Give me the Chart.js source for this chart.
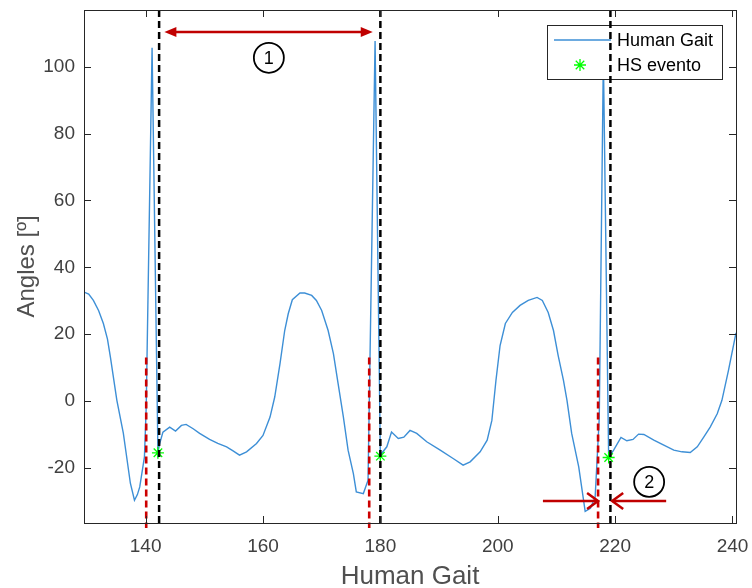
<!DOCTYPE html>
<html>
<head>
<meta charset="utf-8">
<script src="https://cdn.jsdelivr.net/npm/chart.js@4/dist/chart.umd.min.js"></script>
<style>
  html, body { margin: 0; padding: 0; background: #fff; }
  canvas { display: block; }
</style>
</head>
<body>
<canvas id="myChart" width="752" height="588"></canvas>
<script>
// Gait angle curve (x = sample, y = angle in degrees)
const gaitX = [
  129.5, 130.3, 131.1, 132.0, 132.8, 133.5, 134.0, 135.1, 136.2, 137.4,
  138.1, 138.6, 139.0, 139.8, 140.1, 141.1, 142.1, 142.4, 142.95, 144.1,
  145.1, 146.1, 146.9, 148.1, 149.2, 150.9, 152.3, 153.8, 154.9, 156.0,
  157.2, 158.9, 160.0, 161.2, 162.0, 162.9, 163.7, 164.3, 165.0, 166.3,
  167.1, 168.3, 169.1, 170.0, 171.1, 172.0, 172.8, 173.7, 174.5, 175.4,
  175.9, 177.1, 177.9, 179.1, 180.0, 180.2, 181.1, 181.9, 183.05, 184.0,
  185.05, 186.2, 187.9, 190.2, 192.4, 194.1, 195.3, 197.0, 198.2, 199.0,
  199.7, 200.4, 201.3, 202.5, 203.8, 205.2, 206.7, 207.6, 208.6, 209.5,
  210.3, 211.2, 211.8, 212.6, 213.8, 214.9, 215.8, 216.6, 217.3, 218.0,
  218.9, 219.75, 221.0, 222.0, 223.05, 224.0, 224.9, 226.6, 228.3, 230.0,
  231.4, 232.8, 234.0, 235.1, 236.2, 237.4, 238.2, 239.3, 240.6
];
const gaitY = [
  32.6, 32.0, 30.1, 27.0, 23.2, 18.5, 13.1, 0.2, -9.6, -24.6,
  -29.7, -28.0, -25.7, -16.7, -1.8, 105.7, -15.5, -12.7, -9.3, -7.8,
  -9.0, -7.3, -7.0, -8.3, -9.7, -11.5, -12.7, -13.7, -14.9, -16.2,
  -15.2, -12.7, -10.3, -4.8, 1.2, 11.2, 21.1, 26.1, 30.3, 32.3,
  32.3, 31.6, 30.1, 27.1, 21.1, 14.2, 5.2, -4.8, -14.7, -21.7,
  -27.2, -27.7, -23.7, 107.7, -16.5, -15.7, -13.7, -9.3, -11.2, -10.8,
  -8.8, -9.7, -12.2, -14.7, -17.2, -19.2, -18.2, -15.2, -11.7, -5.8,
  6.2, 16.6, 23.2, 26.5, 28.6, 30.1, 31.0, 30.1, 26.5, 21.1,
  13.6, 6.2, 0.2, -9.7, -19.7, -33.0, -32.1, -28.7, -5.0, 103.0,
  -16.9, -14.7, -10.9, -11.9, -11.5, -9.9, -10.0, -11.7, -13.2, -14.7,
  -15.2, -15.4, -13.7, -10.8, -7.8, -3.8, 0.2, 9.0, 20.4
];

// Heel strike events
const hsX = [142.1, 180.0, 218.9];
const hsY = [-15.5, -16.5, -16.9];

// Marker lines
const redLineX = [140.1, 178.1, 217.1];
const redLineTop = 13;
const redLineBottom = -38;
const blackLineX = [142.3, 180.0, 219.2];

// Axis limits and ticks
const xMin = 129.5, xMax = 240.6;
const yMin = -36.5, yMax = 117;
const xTicks = [140, 160, 180, 200, 220, 240];
const yTicks = [-20, 0, 20, 40, 60, 80, 100];

// Annotations: arrows [fromX, toX, y] and circled numbers [x, y, label]
const spanArrow = [143.2, 178.7, 110.4];
const gapArrows = [[207.7, 217.1, -29.9], [228.7, 219.5, -29.9]];
const circleLabels = [[161.0, 102.7, "1"], [225.8, -24.2, "2"]];

const FONT = "'Liberation Sans', Arial, sans-serif";
const AXIS_COLOR = "#262626";
const TEXT_COLOR = "#404040";
const ARROW_COLOR = "#c00000";

const vline = (x, top, bottom) => [{ x: x, y: top }, { x: x, y: bottom }];

const datasets = [
  {
    label: "Human Gait",
    data: gaitX.map((x, i) => ({ x: x, y: gaitY[i] })),
    borderColor: "#3d8fd6",
    borderWidth: 1.4,
    pointRadius: 0,
    tension: 0,
    order: 3
  },
  {
    label: "HS evento",
    data: hsX.map((x, i) => ({ x: x, y: hsY[i] })),
    showLine: false,
    pointStyle: "star",
    pointRadius: 6,
    borderColor: "#00ff00",
    borderWidth: 1.3,
    order: 2
  }
];

redLineX.forEach(x => {
  datasets.push({
    data: vline(x, redLineTop, redLineBottom),
    borderColor: "#cc0000",
    borderWidth: 2.6,
    borderDash: [7, 4],
    pointRadius: 0,
    clip: false,
    order: 1
  });
});

blackLineX.forEach(x => {
  datasets.push({
    data: vline(x, yMax, yMin),
    borderColor: "#000000",
    borderWidth: 2.5,
    borderDash: [7, 4],
    pointRadius: 0,
    order: 1
  });
});

function arrowHead(ctx, x, y, dir, filled) {
  ctx.beginPath();
  if (filled) {
    ctx.moveTo(x, y);
    ctx.lineTo(x - dir * 12, y - 5);
    ctx.lineTo(x - dir * 12, y + 5);
    ctx.closePath();
    ctx.fill();
  } else {
    ctx.moveTo(x - dir * 11, y - 8);
    ctx.lineTo(x, y);
    ctx.lineTo(x - dir * 11, y + 8);
    ctx.stroke();
  }
}

// legend box drawn right after the gait line, so the dashed lines stay on top
const legendBox = {
  id: "legendBox",
  afterDatasetDraw(chart, args) {
    if (args.index !== 0) return;
    const ctx = chart.ctx;
    const bx = 547, by = 25, bw = 175, bh = 54;
    ctx.save();
    ctx.fillStyle = "#fff";
    ctx.fillRect(bx, by, bw, bh);
    ctx.strokeStyle = AXIS_COLOR;
    ctx.lineWidth = 1;
    ctx.strokeRect(bx + 0.5, by + 0.5, bw, bh);

    ctx.strokeStyle = "#3d8fd6";
    ctx.lineWidth = 1.4;
    ctx.beginPath();
    ctx.moveTo(554, 40);
    ctx.lineTo(611, 40);
    ctx.stroke();

    ctx.strokeStyle = "#00ff00";
    ctx.lineWidth = 1.3;
    const sx = 580, sy = 65, r = 6;
    ctx.beginPath();
    for (let k = 0; k < 4; k++) {
      const a = k * Math.PI / 4;
      ctx.moveTo(sx - r * Math.cos(a), sy - r * Math.sin(a));
      ctx.lineTo(sx + r * Math.cos(a), sy + r * Math.sin(a));
    }
    ctx.stroke();

    ctx.fillStyle = "#000";
    ctx.font = "18px " + FONT;
    ctx.textBaseline = "middle";
    ctx.textAlign = "left";
    ctx.fillText("Human Gait", 617, 41);
    ctx.fillText("HS evento", 617, 66);
    ctx.restore();
  }
};

const annotations = {
  id: "annotations",
  afterDraw(chart) {
    const ctx = chart.ctx;
    const xs = chart.scales.x, ys = chart.scales.y;
    const a = chart.chartArea;
    ctx.save();

    // axes box with inward ticks
    ctx.strokeStyle = AXIS_COLOR;
    ctx.lineWidth = 1;
    ctx.strokeRect(Math.round(a.left) + 0.5, Math.round(a.top) + 0.5,
      Math.round(a.right - a.left), Math.round(a.bottom - a.top));
    ctx.beginPath();
    xTicks.forEach(v => {
      const px = Math.round(xs.getPixelForValue(v)) + 0.5;
      ctx.moveTo(px, a.bottom); ctx.lineTo(px, a.bottom - 7);
      ctx.moveTo(px, a.top); ctx.lineTo(px, a.top + 7);
    });
    yTicks.forEach(v => {
      const py = Math.round(ys.getPixelForValue(v)) + 0.5;
      ctx.moveTo(a.left, py); ctx.lineTo(a.left + 7, py);
      ctx.moveTo(a.right, py); ctx.lineTo(a.right - 7, py);
    });
    ctx.stroke();

    // span arrow (1)
    ctx.strokeStyle = ARROW_COLOR;
    ctx.fillStyle = ARROW_COLOR;
    ctx.lineWidth = 2.5;
    let x1 = xs.getPixelForValue(spanArrow[0]);
    let x2 = xs.getPixelForValue(spanArrow[1]);
    let y = ys.getPixelForValue(spanArrow[2]);
    ctx.beginPath();
    ctx.moveTo(x1 + 8, y); ctx.lineTo(x2 - 8, y);
    ctx.stroke();
    arrowHead(ctx, x1, y, -1, true);
    arrowHead(ctx, x2, y, 1, true);

    // gap arrows (2)
    gapArrows.forEach(g => {
      const fx = xs.getPixelForValue(g[0]);
      const tx = xs.getPixelForValue(g[1]);
      const gy = ys.getPixelForValue(g[2]);
      ctx.beginPath();
      ctx.moveTo(fx, gy); ctx.lineTo(tx, gy);
      ctx.stroke();
      arrowHead(ctx, tx, gy, tx > fx ? 1 : -1, false);
    });

    // circled numbers
    circleLabels.forEach(c => {
      const cx = xs.getPixelForValue(c[0]);
      const cy = ys.getPixelForValue(c[1]);
      ctx.beginPath();
      ctx.arc(cx, cy, 15, 0, Math.PI * 2);
      ctx.fillStyle = "#fff";
      ctx.fill();
      ctx.strokeStyle = "#000";
      ctx.lineWidth = 1.8;
      ctx.stroke();
      ctx.fillStyle = "#000";
      ctx.font = "18px " + FONT;
      ctx.textAlign = "center";
      ctx.textBaseline = "middle";
      ctx.fillText(c[2], cx, cy + 1);
    });
    ctx.restore();
  }
};

new Chart(document.getElementById("myChart"), {
  type: "line",
  data: { datasets: datasets },
  options: {
    responsive: false,
    animation: false,
    devicePixelRatio: 1,
    layout: { padding: { top: 10, right: 16, left: 0, bottom: 0 } },
    plugins: {
      legend: { display: false },
      tooltip: { enabled: false }
    },
    scales: {
      x: {
        type: "linear",
        min: xMin,
        max: xMax,
        afterBuildTicks: s => { s.ticks = xTicks.map(v => ({ value: v })); },
        afterFit: s => {
          s.height = 65;
          s.paddingLeft = 0;
          s.paddingRight = 0;
        },
        grid: { display: false, drawTicks: false },
        border: { display: false },
        ticks: {
          color: TEXT_COLOR,
          font: { family: FONT, size: 19 },
          padding: 12,
          maxRotation: 0
        },
        title: {
          display: true,
          text: "Human Gait",
          color: "#505050",
          font: { family: FONT, size: 26 },
          padding: { top: 0, bottom: -4 }
        }
      },
      y: {
        type: "linear",
        min: yMin,
        max: yMax,
        afterBuildTicks: s => { s.ticks = yTicks.map(v => ({ value: v })); },
        afterFit: s => {
          s.width = 84;
          s.paddingTop = 0;
          s.paddingBottom = 0;
        },
        grid: { display: false, drawTicks: false },
        border: { display: false },
        ticks: {
          color: TEXT_COLOR,
          font: { family: FONT, size: 19 },
          padding: 9
        },
        title: {
          display: true,
          text: "Angles [º]",
          color: "#505050",
          font: { family: FONT, size: 24 },
          padding: { top: 13, bottom: 0 }
        }
      }
    }
  },
  plugins: [legendBox, annotations]
});
</script>
</body>
</html>
